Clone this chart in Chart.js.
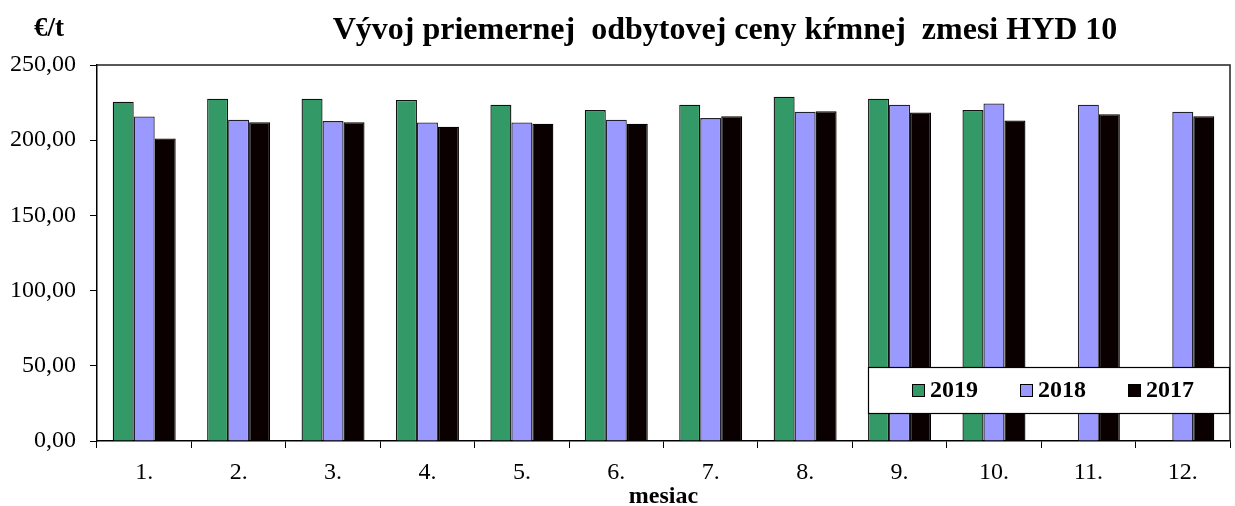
<!DOCTYPE html>
<html>
<head>
<meta charset="utf-8">
<script src="https://cdn.jsdelivr.net/npm/chart.js@4/dist/chart.umd.min.js"></script>
<style>
  html, body { margin: 0; padding: 0; background: #fff; }
  #wrap { width: 1235px; height: 506px; position: relative; }
</style>
</head>
<body>
<div id="wrap"><canvas id="c"></canvas></div>
<script>
const months = ["1.", "2.", "3.", "4.", "5.", "6.", "7.", "8.", "9.", "10.", "11.", "12."];
const y2019 = [225.6, 227.6, 227.6, 226.7, 223.6, 220.0, 223.6, 228.9, 227.6, 220.0, null, null];
const y2018 = [215.8, 213.6, 212.7, 211.8, 211.8, 213.6, 214.7, 218.9, 223.6, 224.4, 223.6, 218.9];
const y2017 = [201.1, 212.0, 212.0, 208.9, 210.9, 210.9, 216.0, 219.3, 218.4, 213.1, 217.3, 216.0];
const yTicks = [0, 50, 100, 150, 200, 250];

const serif = '"Liberation Serif", "Times New Roman", serif';

// titulok, jednotka, ram a legenda v grafe
const decor = {
  id: "decor",
  afterDraw(chart) {
    const ctx = chart.ctx;
    const a = chart.chartArea;
    ctx.save();
    ctx.strokeStyle = "#222";
    ctx.lineWidth = 1.5;
    ctx.beginPath();
    ctx.moveTo(a.left, a.top);
    ctx.lineTo(a.right, a.top);
    ctx.lineTo(a.right, a.bottom);
    ctx.stroke();

    ctx.fillStyle = "#000";
    ctx.textBaseline = "alphabetic";
    ctx.textAlign = "center";
    ctx.font = "bold 32px " + serif;
    ctx.fillText("Vývoj priemernej  odbytovej ceny kŕmnej  zmesi HYD 10", 725, 39);
    ctx.font = "bold 27px " + serif;
    ctx.fillText("€/t", 49, 36);

    // legenda
    const lx = 868, ly = 367, lw = a.right - 1 - lx, lh = 46;
    ctx.fillStyle = "#fff";
    ctx.fillRect(lx, ly, lw, lh);
    ctx.strokeStyle = "#000";
    ctx.lineWidth = 1.2;
    ctx.strokeRect(lx + 0.5, ly + 0.5, lw, lh);
    ctx.font = "bold 24px " + serif;
    ctx.textAlign = "left";
    ctx.textBaseline = "middle";
    chart.data.datasets.forEach((ds, i) => {
      const x = 912 + i * 108;
      const y = ly + lh / 2;
      ctx.fillStyle = ds.backgroundColor;
      ctx.fillRect(x, y - 6, 13, 13);
      ctx.strokeStyle = "#000";
      ctx.lineWidth = 1;
      ctx.strokeRect(x + 0.5, y - 5.5, 12, 12);
      ctx.fillStyle = "#000";
      ctx.fillText(ds.label, x + 18, y + 1);
    });
    ctx.restore();
  }
};

new Chart(document.getElementById("c"), {
  type: "bar",
  data: {
    labels: months,
    datasets: [
      { label: "2019", data: y2019, backgroundColor: "#339966", borderColor: "#111", borderWidth: 1.3 },
      { label: "2018", data: y2018, backgroundColor: "#9999ff", borderColor: "#222233", borderWidth: 1.3 },
      { label: "2017", data: y2017, backgroundColor: "#0a0000", borderColor: "#000", borderWidth: 1.3 }
    ]
  },
  options: {
    responsive: true,
    maintainAspectRatio: false,
    animation: false,
    layout: { padding: { left: 0, right: 5, top: 65, bottom: 0 } },
    datasets: { bar: { categoryPercentage: 0.667, barPercentage: 1.0 } },
    plugins: {
      legend: { display: false },
      title: { display: false },
      tooltip: { enabled: false }
    },
    scales: {
      x: {
        grid: { drawOnChartArea: false, drawTicks: true, tickLength: 7, color: "#000", offset: true },
        border: { color: "#000", width: 1.5 },
        ticks: { color: "#000", font: { family: serif, size: 24 }, padding: 10 },
        title: { display: true, text: "mesiac", color: "#000", font: { family: serif, size: 24, weight: "bold" }, padding: { top: 0, bottom: -5 } },
        afterFit: s => { s.height = 65; }
      },
      y: {
        min: 0, max: 250,
        afterBuildTicks: s => { s.ticks = yTicks.map(v => ({ value: v })); },
        grid: { drawOnChartArea: false, drawTicks: true, tickLength: 7, color: "#000" },
        border: { color: "#000", width: 1.5 },
        ticks: {
          color: "#000", font: { family: serif, size: 24 }, padding: 14,
          callback: v => v.toFixed(2).replace(".", ",")
        },
        afterFit: s => { s.width = 97; }
      }
    }
  },
  plugins: [decor]
});
</script>
</body>
</html>
